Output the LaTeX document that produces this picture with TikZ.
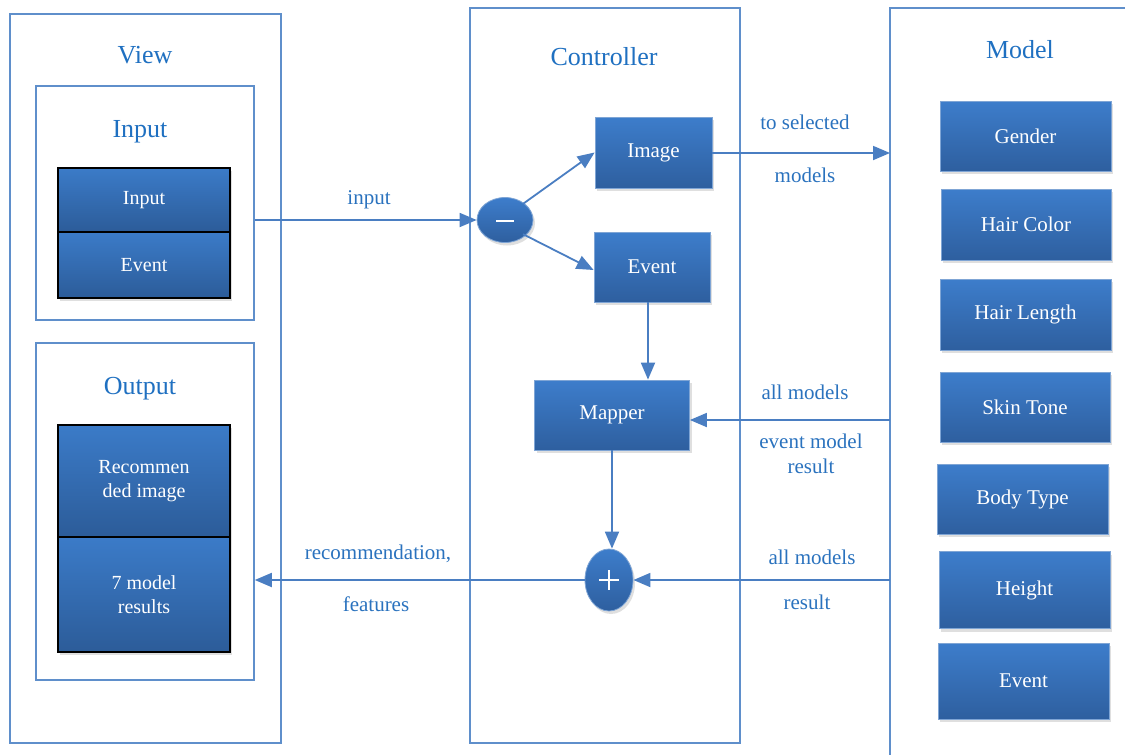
\documentclass[tikz,border=0pt]{standalone}
\usepackage{fontspec}
\setmainfont{Liberation Serif}
\usetikzlibrary{arrows.meta,shadows,calc,shapes.geometric}
\definecolor{boxtop}{HTML}{3D7DCB}
\definecolor{boxbot}{HTML}{2E5F9F}
\definecolor{stacktop}{HTML}{3B7BC8}
\definecolor{stackbot}{HTML}{2C5C99}
\definecolor{panelc}{HTML}{5F8FCB}
\definecolor{titlec}{HTML}{1F70C1}
\definecolor{arrowc}{HTML}{4A7EC2}
\definecolor{labelc}{HTML}{2A72BE}
\tikzset{
  panel/.style={draw=panelc, line width=1.6pt, fill=white, inner sep=0pt},
  ptitle/.style={text=titlec, font=\fontsize{26}{30}\selectfont, inner sep=0pt},
  bluebox/.style={draw=panelc!80, line width=0.8pt, top color=boxtop, bottom color=boxbot,
     text=white, font=\fontsize{21}{24}\selectfont, align=center, inner sep=0pt,
     drop shadow={shadow xshift=2pt, shadow yshift=-3pt, opacity=0.25}},
  stackbox/.style={draw=black, line width=1.6pt, top color=stacktop, bottom color=stackbot,
     text=white, font=\fontsize{20}{24.5}\selectfont, align=center, inner sep=0pt,
     drop shadow={shadow xshift=2pt, shadow yshift=-3pt, opacity=0.25}},
  opnode/.style={ellipse, top color=boxtop, bottom color=boxbot, draw=panelc!80, line width=0.8pt,
     inner sep=0pt, drop shadow={shadow xshift=2pt, shadow yshift=-3pt, opacity=0.25}},
  conn/.style={draw=arrowc, line width=1.8pt, -{Triangle[length=17pt,width=14pt]}},
  lbl/.style={text=labelc, font=\fontsize{21}{24}\selectfont, inner sep=0pt},
}
\begin{document}
\begin{tikzpicture}[x=1pt,y=-1pt]
\useasboundingbox (0,0) rectangle (1125,755);
% ---- View ----
\node[panel, minimum width=271pt, minimum height=729pt] (view) at (145.5,378.5) {};
\node[ptitle] (viewt) at (145,55) {View};
\node[panel, minimum width=218pt, minimum height=234pt] (inp) at (145,203) {};
\node[ptitle] (inpt) at (140,132) {Input};
\node[stackbox, minimum width=172pt, minimum height=64pt] (sinput) at (144,200) {Input};
\node[stackbox, minimum width=172pt, minimum height=66pt] (sevent) at (144,265) {Event};
\node[panel, minimum width=218pt, minimum height=337pt] (outp) at (145,511.5) {};
\node[ptitle] (outpt) at (140,389) {Output};
\node[stackbox, minimum width=172pt, minimum height=112pt] (srec) at (144,481) {Recommen\\ded image};
\node[stackbox, minimum width=172pt, minimum height=115pt] (sres) at (144,594.5) {7 model\\results};
% ---- Controller ----
\node[panel, minimum width=270pt, minimum height=735pt] (ctrl) at (605,375.5) {};
\node[ptitle] (ctrlt) at (604,57) {Controller};
\node[opnode, minimum width=56pt, minimum height=45pt] (minus) at (505,220) {};
\draw[white, line width=2.2pt] ($(minus.center)+(-9,1)$) -- ($(minus.center)+(9,1)$);
\node[bluebox, minimum width=117pt, minimum height=71pt] (image) at (653.5,152.5) {Image};
\node[bluebox, minimum width=116pt, minimum height=70pt] (event) at (652,267) {Event};
\node[bluebox, minimum width=155pt, minimum height=70pt] (mapper) at (612,415) {Mapper};
\node[opnode, minimum width=48pt, minimum height=62pt] (plus) at (609,580) {};
\draw[white, line width=2pt] ($(plus.center)+(-10,0)$) -- ($(plus.center)+(10,0)$)
  ($(plus.center)+(0,-10)$) -- ($(plus.center)+(0,10)$);
% ---- Model ----
\coordinate (mtl) at (890,8);
\draw[panelc, line width=1.6pt] (890,760) -- (mtl) -- (1130,8);
\node[ptitle] (modelt) at (1020,50) {Model};
\node[bluebox, minimum width=171pt, minimum height=70pt] (m1) at (1025.5,136) {Gender};
\node[bluebox, minimum width=170pt, minimum height=71pt] (m2) at (1026,224.5) {Hair Color};
\node[bluebox, minimum width=171pt, minimum height=71pt] (m3) at (1025.5,314.5) {Hair Length};
\node[bluebox, minimum width=170pt, minimum height=70pt] (m4) at (1025,407) {Skin Tone};
\node[bluebox, minimum width=171pt, minimum height=70pt] (m5) at (1022.5,499) {Body Type};
\node[bluebox, minimum width=171pt, minimum height=77pt] (m6) at (1024.5,590) {Height};
\node[bluebox, minimum width=171pt, minimum height=76pt] (m7) at (1023.5,681) {Event};
% ---- connectors ----
\draw[conn] (inp.east |- minus) -- (minus.west);
\node[lbl] (linput) at (369,200) {input};
\draw[conn] (minus.north east) ++(-2,0) -- (image.west);
\draw[conn] (minus.south east) ++(-2,-2) -- ($(event.west)+(0,3)$);
\coordinate (mimg) at (890,153);
\draw[conn] (image.east |- mimg) -- (mimg);
\node[lbl] (lts) at (805,122) {to selected};
\node[lbl] (lmod) at (805,175) {models};
\draw[conn] ($(event.south)+(-4,0)$) -- ($(mapper.north)+(36,0)$);
\coordinate (mmap) at (890,420);
\draw[conn] (mmap) -- (mapper.east |- mmap);
\node[lbl] (lam1) at (805,392) {all models};
\node[lbl] (lem) at (811,441) {event model};
\node[lbl] (lres1) at (811,466) {result};
\draw[conn] (mapper.south) -- (mapper.south |- plus.north);
\coordinate (mplus) at (890,580);
\draw[conn] (mplus) -- (plus.east);
\node[lbl] (lam2) at (812,557) {all models};
\node[lbl] (lres2) at (807,602) {result};
\draw[conn] (plus.west) -- (outp.east |- plus);
\node[lbl] (lrec) at (378,554) {recommendation,};
\node[lbl] (lfeat) at (376,604) {features};
\end{tikzpicture}
\end{document}
